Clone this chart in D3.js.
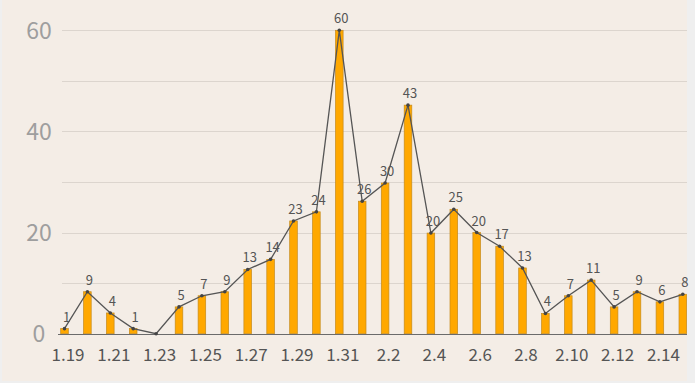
<!DOCTYPE html>
<html><head><meta charset="utf-8">
<script src="https://cdn.jsdelivr.net/npm/d3@7"></script>
<style>
html,body{margin:0;padding:0;background:#efefef;}
svg{display:block;font-family:"Noto Sans CJK SC","Noto Sans",sans-serif;}
</style></head>
<body>
<svg id="chart" width="695" height="383"></svg>
<script>
const categories = ["1.19","1.20","1.21","1.22","1.23","1.24","1.25","1.26","1.27","1.28","1.29","1.30","1.31",
  "2.1","2.2","2.3","2.4","2.5","2.6","2.7","2.8","2.9","2.10","2.11","2.12","2.13","2.14","2.15"];
const values = [1, 8.3, 4.1, 1, 0, 5.3, 7.5, 8.3, 12.7, 14.7, 22.3, 24.1, 60, 26.2, 29.8, 45.2, 19.9, 24.6, 20, 17.3, 13, 4, 7.5, 10.6, 5.3, 8.3, 6.3, 7.8];
const valueLabels = ["1","9","4","1","","5","7","9","13","14","23","24","60","26","30","43","20","25","20","17","13","4","7","11","5","9","6","8"];
const yTicks = [0, 20, 40, 60];
const gridValues = [10, 20, 30, 40, 50, 60];

const svg = d3.select("#chart");
svg.append("rect").attr("x", 2).attr("y", 0).attr("width", 685).attr("height", 381).attr("fill", "#f4ede6");

const x = d3.scalePoint().domain(categories).range([64.5, 682.8]);
const y = d3.scaleLinear().domain([0, 60]).range([333.7, 30.3]);

// grid
svg.append("g").selectAll("line").data(gridValues).join("line")
  .attr("x1", 62).attr("x2", 687)
  .attr("y1", d => Math.round(y(d)) + 0.5).attr("y2", d => Math.round(y(d)) + 0.5)
  .attr("stroke", "#dcd5ce").attr("stroke-width", 1);

// y tick labels
svg.append("g").selectAll("text").data(yTicks).join("text")
  .attr("x", 39).attr("y", d => y(d)).attr("dy", "0.36em")
  .attr("text-anchor", "middle").attr("font-size", 23).attr("fill", "#9e9e9e")
  .text(d => d);

// bars
const bw = 7.6;
svg.append("g").selectAll("rect").data(values).join("rect")
  .attr("x", (d, i) => x(categories[i]) - bw / 2)
  .attr("y", d => y(d))
  .attr("width", bw)
  .attr("height", d => y(0) - y(d))
  .attr("fill", "#ffa800").attr("stroke", "#c58a1c").attr("stroke-width", 0.7);

// baseline
svg.append("line").attr("x1", 58).attr("x2", 687)
  .attr("y1", Math.round(y(0)) + 0.5).attr("y2", Math.round(y(0)) + 0.5)
  .attr("stroke", "#6b6b6b").attr("stroke-width", 1.2);

// line
const line = d3.line().x((d, i) => x(categories[i])).y(d => y(d));
svg.append("path").datum(values).attr("d", line)
  .attr("fill", "none").attr("stroke", "#555").attr("stroke-width", 1.3);
svg.append("g").selectAll("circle").data(values).join("circle")
  .attr("cx", (d, i) => x(categories[i])).attr("cy", d => y(d)).attr("r", 1.8)
  .attr("fill", "#444");

// value labels
svg.append("g").selectAll("text").data(values).join("text")
  .attr("x", (d, i) => x(categories[i]) + 2)
  .attr("y", d => y(d) - 7)
  .attr("text-anchor", "middle").attr("font-size", 13).attr("fill", "#555")
  .text((d, i) => valueLabels[i]);

// x labels
const xAxis = d3.axisBottom(x).tickValues(categories.filter((c, i) => i % 2 === 0)).tickSize(0).tickPadding(0);
const gx = svg.append("g").attr("transform", "translate(3,361)").call(xAxis);
gx.select(".domain").remove();
gx.selectAll("text").attr("dy", 0).attr("y", 0).attr("font-size", 17).attr("fill", "#555")
  .attr("font-family", "\"Noto Sans CJK SC\",\"Noto Sans\",sans-serif");
</script>
</body></html>
